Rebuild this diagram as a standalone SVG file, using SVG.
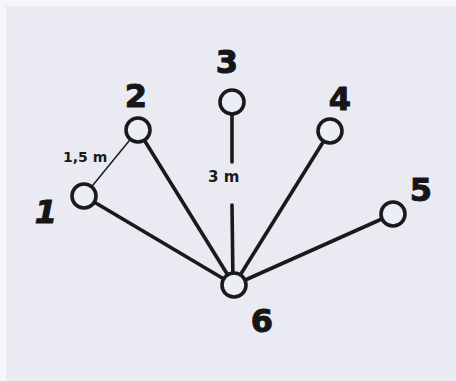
<svg xmlns="http://www.w3.org/2000/svg" width="456" height="381" viewBox="0 0 456 381">
<style>
.bg{fill:#e9eaf2}
.edge{stroke:#1a1a1a;stroke-width:3.6;stroke-linecap:round;fill:none}
.thin{stroke:#1a1a1a;stroke-width:1.5;fill:none}
.node{fill:#eceef5;stroke:#1a1a1a;stroke-width:3.6}
.num{font-family:"DejaVu Sans",sans-serif;font-weight:bold;font-size:32px;fill:#161616;stroke:#161616;stroke-width:1;text-anchor:middle}
.lbl{font-family:"DejaVu Sans",sans-serif;font-weight:bold;font-size:14px;fill:#1a1a1a}
</style>
<rect width="456" height="381" fill="#f6f6f9"/>
<rect class="bg" x="6" y="6" width="450" height="375"/>
<g id="connectors">
<line class="thin" x1="84" y1="196" x2="138" y2="130"/>
<line class="edge" x1="234" y1="285" x2="84" y2="196"/>
<line class="edge" x1="234" y1="285" x2="138" y2="130"/>
<line class="edge" x1="232" y1="104" x2="232" y2="162"/>
<line class="edge" x1="232" y1="205" x2="233" y2="285"/>
<line class="edge" x1="234" y1="285" x2="330" y2="131"/>
<line class="edge" x1="234" y1="285" x2="393" y2="214"/>
<text class="lbl" x="63" y="162">1,5 m</text>
<text class="lbl" x="208" y="182" style="font-size:15px">3 m</text>
</g>
<g id="n1"><circle class="node" cx="84" cy="196" r="12"/><text class="num" x="46" y="223" style="font-style:italic">1</text></g>
<g id="n2"><circle class="node" cx="138" cy="130" r="12"/><text class="num" x="136" y="107">2</text></g>
<g id="n3"><circle class="node" cx="232" cy="102" r="12"/><text class="num" x="227" y="73">3</text></g>
<g id="n4"><circle class="node" cx="330" cy="131" r="12"/><text class="num" x="340" y="110">4</text></g>
<g id="n5"><circle class="node" cx="393" cy="214" r="12"/><text class="num" x="421" y="201">5</text></g>
<g id="n6"><circle class="node" cx="234" cy="285" r="12"/><text class="num" x="262" y="332">6</text></g>
</svg>
